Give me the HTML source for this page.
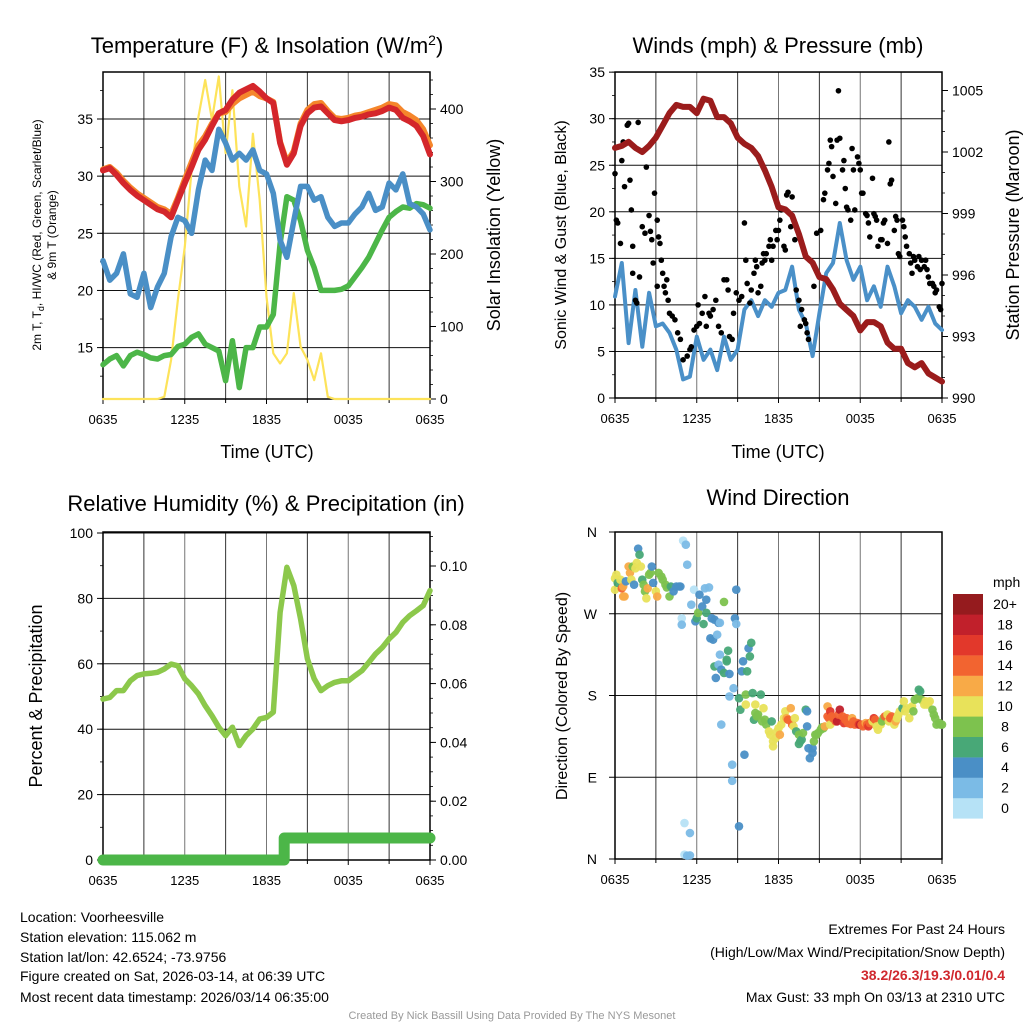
<!DOCTYPE html>
<html><head><meta charset="utf-8"><style>
body{margin:0;background:#fff;}
svg{display:block;font-family:"Liberation Sans",sans-serif;}
</style></head><body>
<svg id="c" width="1024" height="1024" viewBox="0 0 1024 1024" xmlns="http://www.w3.org/2000/svg">
<g id="layers"></g>
<text x="267" y="53" font-size="22" text-anchor="middle">Temperature (F) &amp; Insolation (W/m<tspan dy="-8" font-size="14">2</tspan><tspan dy="8">)</tspan></text>
<text x="778" y="53" font-size="22" text-anchor="middle">Winds (mph) &amp; Pressure (mb)</text>
<text x="266" y="511" font-size="22" text-anchor="middle">Relative Humidity (%) &amp; Precipitation (in)</text>
<text x="778" y="505" font-size="22" text-anchor="middle">Wind Direction</text>
<text x="267" y="458" font-size="18" text-anchor="middle">Time (UTC)</text>
<text x="778" y="458" font-size="18" text-anchor="middle">Time (UTC)</text>
<text transform="translate(41,235) rotate(-90)" font-size="12" text-anchor="middle">2m T, T<tspan dy="3" font-size="9">d</tspan><tspan dy="-3">, HI/WC (Red, Green, Scarlet/Blue)</tspan></text>
<text transform="translate(56,235) rotate(-90)" font-size="12" text-anchor="middle">&amp; 9m T (Orange)</text>
<text transform="translate(500,235) rotate(-90)" font-size="18" text-anchor="middle">Solar Insolation (Yellow)</text>
<text transform="translate(566,235) rotate(-90)" font-size="16" text-anchor="middle">Sonic Wind &amp; Gust (Blue, Black)</text>
<text transform="translate(1019,235) rotate(-90)" font-size="18" text-anchor="middle">Station Pressure (Maroon)</text>
<text transform="translate(42,696) rotate(-90)" font-size="18" text-anchor="middle">Percent &amp; Precipitation</text>
<text transform="translate(567,696) rotate(-90)" font-size="16" text-anchor="middle">Direction (Colored By Speed)</text>
<text x="993" y="587" font-size="14" text-anchor="start">mph</text>
<g font-size="14">
<text x="20" y="922">Location: Voorheesville</text>
<text x="20" y="942">Station elevation: 115.062 m</text>
<text x="20" y="962">Station lat/lon: 42.6524; -73.9756</text>
<text x="20" y="981">Figure created on Sat, 2026-03-14, at 06:39 UTC</text>
<text x="20" y="1002">Most recent data timestamp: 2026/03/14 06:35:00</text>
</g>
<g font-size="14" text-anchor="end">
<text x="1005" y="934">Extremes For Past 24 Hours</text>
<text x="1005" y="957">(High/Low/Max Wind/Precipitation/Snow Depth)</text>
<text x="1005" y="980" fill="#d0282e" font-weight="bold">38.2/26.3/19.3/0.01/0.4</text>
<text x="1005" y="1002">Max Gust: 33 mph On 03/13 at 2310 UTC</text>
</g>
<text x="512" y="1019" font-size="11" fill="#999" text-anchor="middle">Created By Nick Bassill Using Data Provided By The NYS Mesonet</text>
</svg>
<script>
const tempF=[30.5,30.7,30.1,29.4,28.8,28.3,27.9,27.5,27.1,26.9,26.4,27.9,29.4,30.8,32.3,33.2,34.4,35.5,35.8,36.7,37.3,37.6,37.9,37.4,36.8,36.4,32.9,31.0,32.0,34.4,35.5,36.0,36.1,35.5,34.9,34.8,34.9,35.1,35.2,35.4,35.5,35.7,36.0,35.8,35.1,34.8,34.4,33.5,31.9];
const temp9mF=[30.6,30.8,30.3,29.6,29.0,28.5,28.1,27.7,27.3,27.1,26.7,28.1,29.7,31.2,32.7,33.5,34.6,35.5,35.6,36.3,36.8,37.1,37.4,37.0,36.8,36.5,33.0,31.2,32.2,34.6,35.8,36.3,36.4,35.7,35.1,35.0,35.1,35.3,35.4,35.6,35.8,36.0,36.3,36.2,35.6,35.3,34.9,34.1,32.7];
const windChillF=[22.6,20.9,21.5,23.2,19.7,19.4,21.5,18.5,20.3,21.5,24.7,26.4,26.1,25.0,28.8,31.4,30.5,34.1,32.9,31.4,32.0,31.4,32.3,30.5,30.2,28.5,24.4,22.9,26.1,29.1,29.1,27.9,28.2,26.4,25.6,25.9,25.9,26.7,27.3,28.5,27.0,27.3,29.4,28.8,30.2,27.6,27.3,26.7,25.3];
const dewpointF=[13.5,14.0,14.3,13.4,14.3,14.6,14.4,14.1,14.0,14.3,14.4,15.1,15.3,15.9,16.2,15.3,15.0,14.7,12.1,15.6,11.5,15.0,15.0,16.8,16.8,17.9,24.1,28.2,27.9,26.1,23.5,22.0,20.0,20.0,20.0,20.1,20.4,21.2,22.0,22.9,24.1,25.3,26.4,26.9,27.3,27.2,27.6,27.5,27.2];
const insolation=[0,0,0,0,0,0,0,0,0,3,54,137,210,316,389,440,385,445,339,426,293,238,366,274,141,63,49,63,146,72,54,26,63,3,0,0,0,0,0,0,0,0,0,0,0,0,0,0,0];
const windMph=[10.9,14.5,5.9,11.6,5.5,11.3,7.7,8.0,7.0,5.2,2.0,2.3,6.6,4.1,5.2,3.0,6.6,4.1,5.2,9.5,10.5,8.8,10.5,9.8,11.3,11.6,14.1,9.5,8.0,4.5,9.1,13.4,14.5,18.8,14.8,12.7,14.1,10.5,12.0,9.8,14.1,12.0,9.1,10.5,9.8,8.4,9.8,8.0,7.3];
const pressureMb=[1002.2,1002.3,1002.5,1002.2,1002.0,1002.3,1002.7,1003.3,1003.9,1004.3,1004.2,1004.2,1003.9,1004.6,1004.5,1003.7,1003.7,1003.4,1002.7,1002.4,1002.2,1001.8,1001.1,1000.3,999.3,999.2,998.9,998.0,996.9,996.6,995.9,995.8,995.3,994.6,994.3,994.0,993.3,993.7,993.7,993.5,992.7,992.4,992.4,991.7,991.5,991.7,991.2,991.0,990.8];
const gustHours=[0.0,0.1,0.2,0.4,0.5,0.6,0.7,0.9,1.0,1.1,1.2,1.3,1.3,1.5,1.6,1.7,1.8,2.0,2.1,2.2,2.3,2.5,2.6,2.7,2.8,2.9,3.1,3.1,3.2,3.3,3.4,3.5,3.6,3.7,3.8,3.9,4.0,4.2,4.4,4.6,4.8,5.0,5.3,5.5,5.6,5.8,6.0,6.1,6.2,6.4,6.6,6.7,6.9,7.0,7.2,7.4,7.6,7.8,8.0,8.2,8.3,8.4,8.6,8.7,8.9,9.1,9.3,9.5,9.6,9.7,9.9,10.0,10.2,10.3,10.4,10.5,10.7,10.8,10.9,11.0,11.1,11.3,11.4,11.5,11.6,11.8,11.9,12.0,12.1,12.2,12.4,12.5,12.6,12.7,12.9,13.0,13.2,13.3,13.5,13.6,13.7,13.9,14.0,14.1,14.2,14.3,14.6,14.8,15.1,15.3,15.4,15.6,15.7,15.8,15.9,16.0,16.2,16.3,16.4,16.5,16.7,16.8,16.9,17.0,17.1,17.3,17.4,17.5,17.6,17.8,17.9,18.0,18.1,18.2,18.4,18.5,18.6,18.7,18.9,19.0,19.1,19.2,19.3,19.5,19.6,19.7,19.8,20.0,20.1,20.2,20.3,20.5,20.6,20.7,20.8,20.9,21.1,21.2,21.3,21.4,21.6,21.7,21.8,21.9,22.0,22.2,22.3,22.4,22.5,22.7,22.8,22.9,23.0,23.1,23.3,23.4,23.5,23.6,23.8,23.9,24.0];
const gustMph=[24.1,19.1,18.8,16.6,25.5,27.5,22.7,29.3,29.5,23.4,20.2,16.3,13.4,10.5,10.2,29.6,13.0,18.4,26.6,17.7,24.8,19.6,17.9,17.0,14.5,22.0,12.0,19.1,17.3,16.6,14.8,13.4,12.0,11.3,12.7,10.5,9.1,8.8,8.4,7.0,6.3,4.1,4.5,5.2,5.5,7.3,7.7,10.0,8.0,9.1,10.9,7.7,9.1,8.8,9.5,10.5,7.7,7.0,12.7,12.7,11.6,6.6,6.3,9.1,11.3,10.5,10.9,18.8,14.8,12.3,10.2,11.6,13.4,14.8,14.1,11.3,12.0,14.5,15.5,14.8,15.5,16.3,17.0,14.8,16.3,18.0,17.0,18.0,19.1,20.2,16.3,15.9,21.8,22.1,18.4,21.6,17.0,11.6,10.5,7.7,9.5,8.4,8.0,7.0,6.3,14.8,12.0,17.7,18.0,21.3,22.0,24.5,25.2,27.7,27.0,23.8,20.9,27.7,33.0,27.9,24.5,25.5,22.5,20.5,20.2,19.1,26.8,24.5,20.2,25.9,25.2,24.5,22.0,22.0,19.8,19.6,18.8,17.3,23.6,19.8,19.5,19.1,16.3,17.0,17.0,18.8,19.1,16.6,27.5,23.0,23.4,18.0,19.5,19.1,15.5,15.2,19.1,18.4,17.3,16.3,15.5,14.5,13.4,15.2,14.8,14.1,15.2,13.8,14.8,14.1,14.8,13.8,13.0,12.3,12.3,12.0,11.3,11.6,9.8,9.5,12.3];
const rhPct=[49.2,49.7,51.8,51.8,54.8,56.4,56.9,57.1,57.4,58.4,59.9,59.4,55.4,53.3,50.8,47.2,44.1,40.6,38.0,40.6,35.0,38.0,40.1,43.1,43.6,45.2,75.7,89.5,83.9,73.7,61.5,55.4,51.8,53.3,54.3,54.8,54.8,56.4,57.9,60.4,63.0,65.0,67.6,69.6,72.7,74.7,76.2,77.8,82.4];
const precipIn=[0,0,0,0,0,0,0,0,0,0,0,0,0,0,0,0,0,0,0,0,0,0,0,0,0,0,0,0.0075,0.0075,0.0075,0.0075,0.0075,0.0075,0.0075,0.0075,0.0075,0.0075,0.0075,0.0075,0.0075,0.0075,0.0075,0.0075,0.0075,0.0075,0.0075,0.0075,0.0075,0.0075];
const dirHours=[0.0,0.0,0.1,0.2,0.4,0.5,0.6,0.6,0.7,0.8,1.0,1.1,1.2,1.3,1.4,1.5,1.6,1.7,1.8,1.9,2.0,2.1,2.2,2.3,2.4,2.5,2.6,2.7,2.8,3.0,3.1,3.2,3.4,3.5,3.7,3.8,4.0,4.1,4.3,4.5,4.7,4.8,4.9,4.9,5.0,5.2,5.3,5.6,5.8,5.9,6.0,6.1,6.2,6.4,6.5,6.6,6.7,6.7,6.9,7.0,7.1,7.2,7.3,7.5,7.6,7.7,7.7,7.3,7.4,7.6,7.8,8.0,8.0,8.2,8.2,8.3,8.4,8.4,7.8,8.6,8.6,8.7,8.8,8.9,8.9,9.1,9.1,9.2,9.3,9.4,9.5,9.6,9.6,9.7,9.8,9.9,10.0,10.1,10.2,10.3,10.3,10.4,10.5,10.7,10.8,10.9,11.0,11.1,11.3,11.4,11.5,11.6,11.6,11.8,11.9,12.0,12.1,12.2,12.4,12.5,12.6,12.7,12.9,13.0,13.1,13.2,13.3,13.5,13.5,13.6,13.7,13.8,14.0,14.1,14.1,14.2,14.3,14.5,14.5,14.6,14.7,14.8,14.9,15.1,15.2,15.3,15.4,15.6,15.6,15.7,15.8,15.8,15.9,16.0,16.2,16.3,16.4,16.5,16.7,16.8,16.9,17.0,17.1,17.3,17.4,17.5,17.6,17.8,17.9,18.0,18.1,18.2,18.4,18.5,18.6,18.7,18.9,19.0,19.1,19.2,19.3,19.5,19.6,19.7,19.8,20.0,20.1,20.2,20.3,20.5,20.6,20.7,20.8,20.9,21.1,21.2,21.3,21.4,21.6,21.7,21.8,21.9,22.0,22.2,22.3,22.4,22.5,22.7,22.8,22.9,23.0,23.1,23.3,23.4,23.5,23.6,23.8,23.9,24.0,5.1,5.1,5.3,5.5,5.5];
const dirDeg=[296.5,309,313,304,307.5,298,300,289,289,305.7,322,315,307.5,322,302,320,326,341.7,335,322,307.5,302,294.7,287,298,313,315,322,304,294.7,289,315,311,307.5,302,299,289,300,294.7,300,300,300,265,258,350.5,346,324,280,296.5,261.6,265,271,291,278,258.7,298,271,285.5,299,243,265,241.5,263.5,247,260,260,225,212,199.3,214,208.4,283,204.8,217.6,219.4,229.3,203.7,179,148,86,103.8,188,265,296.5,258.7,36,177,164.4,206.6,217.6,114.8,181,170,206.6,232,223,238,182.7,153.4,170,160.7,157,159,181,151.5,166,153.4,148,140.5,136.9,151.5,129.5,124,133.2,140.5,144,136.9,148,155,162.6,155,153.4,166,148,146,155,140.5,136.9,126.6,129.5,131.4,138.7,164.4,162.6,146,122,111,122,116.7,129.5,136.9,136.9,138.7,142.4,145,144,146,168,157,155,162.6,148,157,155,151.5,151.5,159,164.4,157,149.7,153.4,155,149.7,148.6,155,151.5,148,149.7,148,148,148,146,149.7,148,146,149.7,151.5,155,153.4,146,142.4,148,151.5,155,157,159,151.5,155,157,148,151.5,155,159,162.6,166,173.6,162.6,166,155,166,168,162.6,175.4,177,186.4,184.6,175.4,170,173.6,170,171.7,173.6,164.4,159,155,148,149.7,148,148,4.8,39.6,3.7,28.6,4];
const dirSpeed=[10,10,10,6,10,14,12,12,12,4,12,12,10,8,4,10,10,4,6,10,6,8,8,10,12,8,8,4,4,10,12,8,8,8,8,8,8,6,4,4,4,4,0.5,2,0.5,2,2,2,0.5,4,6,8,4,4,6,2,6,4,2,4,4,4,4,2,4,2,2,6,4,2,4,8,6,6,6,6,4,2,2,2,2,2,4,4,2,4,6,6,4,4,4,8,10,6,4,6,6,6,6,10,8,8,8,6,8,10,8,8,10,10,6,10,10,10,10,10,12,10,10,10,12,14,12,14,10,10,6,8,6,6,6,8,6,4,4,4,4,4,4,8,8,8,8,8,8,8,12,12,14,14,16,10,14,14,14,18,14,18,14,16,14,14,14,14,12,14,14,14,16,18,14,14,12,14,16,14,10,16,14,10,10,10,8,8,14,10,10,14,14,10,12,10,10,10,6,10,10,10,10,10,10,8,8,8,6,6,8,10,10,10,10,10,8,8,8,8,8,8,8,0.5,0.5,2,2,2];
const speedLabels=['0','2','4','6','8','10','12','14','16','18','20+'];
const speedColors=['#b6e2f6','#7bbbe6','#4a8fc6','#48a877','#7dc24e','#e8e25a','#f8aa47','#f26430','#e2382b','#c1202b','#951b1e'];
const timeLabels=['0635','1235','1835','0035','0635'];
const tempTicks=[15,20,25,30,35];
const insTicks=[0,100,200,300,400];
const windTicks=[0,5,10,15,20,25,30,35];
const presTicks=[990,993,996,999,1002,1005];
const rhTicks=[0,20,40,60,80,100];
const prTicks=[0,0.02,0.04,0.06,0.08,0.10];
const dirTicks=[0,90,180,270,360];
const dirLabels=['N','E','S','W','N'];

const NS='http://www.w3.org/2000/svg';
const root=document.getElementById('layers');
function mk(tag,attrs,parent){const e=document.createElementNS(NS,tag);for(const k in attrs)e.setAttribute(k,attrs[k]);(parent||root).appendChild(e);return e;}
const L={x0:103,x1:430},R={x0:615,x1:942};
function xs(P,h){return P.x0+h*(P.x1-P.x0)/24;}
const yT=t=>119+(35-t)*11.43, yI=w=>399-w*0.725;
const yW=m=>398-m*9.31, yP=p=>398-(p-990)*20.5;
const yR=r=>860-r*3.27, yPr=p=>860-p*2940;
const yD=d=>859-d*(327/360);

function frame(P,top,bot,hvals,yf,name){
  const g=mk('g',{});
  
  
  for(let i=1;i<8;i++){const x=xs(P,i*3);mk('line',{x1:x,x2:x,y1:top,y2:bot,stroke:i%2?'#333':'#777','stroke-width':1},g);}
  hvals.forEach(v=>{const y=yf(v);mk('line',{x1:P.x0,x2:P.x1,y1:y,y2:y,stroke:'#111','stroke-width':1},g);});
  const b=mk('rect',{x:P.x0,y:top,width:P.x1-P.x0,height:bot-top,fill:'none',stroke:'#000','stroke-width':1.5});
  
  
  timeLabels.forEach((t,i)=>{const x=xs(P,i*6);mk('line',{x1:x,x2:x,y1:bot,y2:bot+5,stroke:'#000'});
    const tx=mk('text',{x:x,y:bot+25,'font-size':13,'text-anchor':'middle'});tx.textContent=t;
    
    });
  for(let i=1;i<8;i+=2){const x=xs(P,i*3);mk('line',{x1:x,x2:x,y1:bot,y2:bot+4,stroke:'#000'});}
}
function yaxis(P,ticks,yf,side,fmt,minorStep,range){
  const x=side==='l'?P.x0:P.x1, d=side==='l'?-1:1;
  ticks.forEach(v=>{const y=yf(v);mk('line',{x1:x,x2:x+d*6,y1:y,y2:y,stroke:'#000'});
    const t=mk('text',{x:x+d*10,y:y+5,'font-size':14,'text-anchor':side==='l'?'end':'start'});t.textContent=fmt(v);
    
    });
  if(minorStep){for(let v=range[0];v<=range[1]+1e-9;v+=minorStep){const y=yf(v);mk('line',{x1:x,x2:x+d*3,y1:y,y2:y,stroke:'#000','stroke-width':0.8});}}
}
function line(P,vals,yf,color,w,name,step){
  const pts=[];
  vals.forEach((v,i)=>{
    if(step&&i>0&&v!==vals[i-1]){pts.push(xs(P,i*0.5-0.2).toFixed(1)+','+yf(vals[i-1]).toFixed(1));pts.push(xs(P,i*0.5-0.2).toFixed(1)+','+yf(v).toFixed(1));}
    pts.push(xs(P,i*0.5).toFixed(1)+','+yf(v).toFixed(1));});
  const p=mk('polyline',{points:pts.join(' '),fill:'none',stroke:color,'stroke-width':w,'stroke-linejoin':'round','stroke-linecap':'round'});
  
  
  return p;
}
// Panel 1
frame(L,72,399,tempTicks,yT,'temperature');
yaxis(L,tempTicks,yT,'l',v=>v,2.5,[12.5,37.5]);
yaxis(L,insTicks,yI,'r',v=>v,20,[0,440]);
line(L,insolation,yI,'#fde35a',2.2,'insolation-line');
line(L,dewpointF,yT,'#4cb648',5.5,'dewpoint-line');
line(L,windChillF,yT,'#4a8fc6',5.5,'windchill-line');
line(L,temp9mF,yT,'#f5862b',6,'temp-9m-line');
line(L,tempF,yT,'#d4262b',6,'temp-2m-line');
// Panel 2
frame(R,72,398,windTicks,yW,'winds');
yaxis(R,windTicks,yW,'l',v=>v,2.5,[0,35]);
yaxis(R,presTicks,yP,'r',v=>v,1,[990,1005]);
line(R,windMph,yW,'#4a90c8',4,'sonic-wind-line');
gustHours.forEach((h,i)=>{const c=mk('circle',{cx:xs(R,h),cy:yW(gustMph[i]),r:2.8,fill:'#000'});
  
  });
line(R,pressureMb,yP,'#9b1c1c',6,'pressure-line');
// Panel 3
frame(L,532,860,rhTicks,yR,'humidity');
yaxis(L,rhTicks,yR,'l',v=>v,10,[0,100]);
yaxis(L,prTicks,yPr,'r',v=>v.toFixed(2),0.005,[0,0.11]);
line(L,rhPct,yR,'#8cc84b',5.5,'rh-line');
line(L,precipIn,yPr,'#4cb648',11,'precip-line',true);
// Panel 4
frame(R,532,859,dirTicks,yD,'direction');
dirTicks.forEach((v,i)=>{const y=yD(v);mk('line',{x1:R.x0,x2:R.x0-6,y1:y,y2:y,stroke:'#000'});
  const t=mk('text',{x:R.x0-18,y:y+5,'font-size':14,'text-anchor':'end'});t.textContent=dirLabels[i];
  
  });
dirHours.forEach((h,i)=>{const s=dirSpeed[i];const k=Math.min(10,Math.floor((s+1)/2));
  const c=mk('circle',{cx:xs(R,h),cy:yD(dirDeg[i]),r:4.3,fill:speedColors[k],'fill-opacity':0.95});
  
  });
// colorbar
speedColors.forEach((col,i)=>{const y=594+(10-i)*20.4;
  const r=mk('rect',{x:953,y:y,width:30,height:20.6,fill:col});
  
  
  const t=mk('text',{x:1005,y:y+15,'font-size':14,'text-anchor':'middle'});t.textContent=speedLabels[i];
  
  });
</script>
</body></html>
